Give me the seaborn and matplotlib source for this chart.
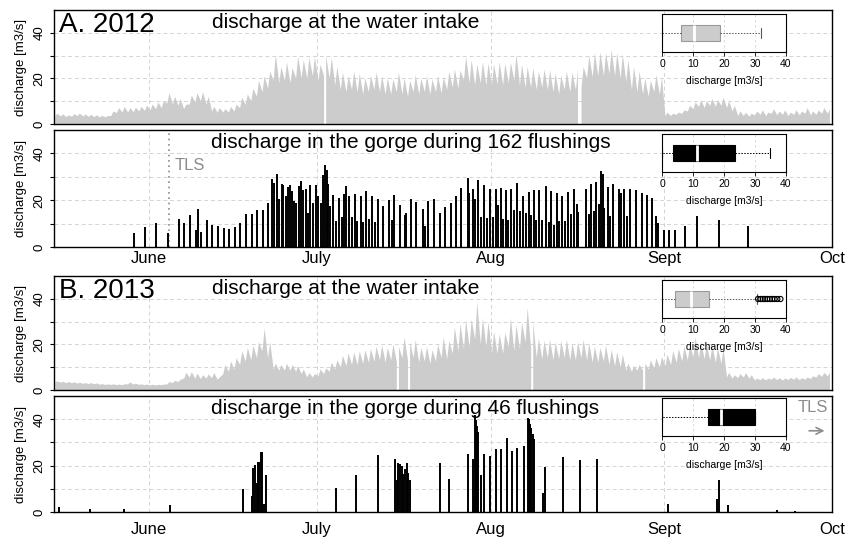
import pandas as pd
import seaborn as sns
import matplotlib.pyplot as plt
import matplotlib.dates as mdates

# discharge at the water intake [m3/s]: daily low and daily high, 15 May - 30 Sept
intake12_low = [3.5, 3.3, 3.0, 3.2, 3.5, 3.3, 3.1, 3.0, 2.9, 2.9,
                3.5, 4.8, 5.0, 5.0, 5.2, 5.5, 5.8,
                6.0, 6.5, 7.0, 9.0, 8.5, 8.0, 6.5, 8.5, 9.5, 10.0, 8.5,
                5.5, 5.0, 5.0, 5.0, 5.5, 7.0, 8.5, 10.0, 12.0, 14.0, 15.5,
                19.0, 18.0, 19.0, 18.0, 20.0, 20.0, 20.0, 21.0,
                19.0, 21.0, 20.0, 17.0, 15.0,
                14, 15, 14, 13, 14, 15, 14, 13, 13, 14, 13, 12, 14,
                13, 14, 13, 14, 13.5, 15, 16, 15.5, 19, 18,
                17, 18, 17,
                17, 17.5, 17, 18, 19,
                17, 16, 16, 15, 16, 15, 14, 13, 15, 14, 15, 16,
                20, 20.5, 21, 21, 22, 21, 20, 18.5, 15, 14, 13, 12, 14, 13,
                3.5, 3.5, 4.0, 4.5, 5.5, 6.5, 7.5, 7.0, 8.0, 7.5, 8.0, 7.0, 5.5,
                3.5, 3.5, 3.2, 3.8, 4.0, 3.5, 4.5, 3.8, 4.0, 3.5, 4.0, 3.8, 4.5, 3.8, 4.0, 4.5, 4.5]
intake12_high = [4.5, 4.2, 3.8, 4.3, 4.6, 4.2, 4.0, 3.8, 3.6, 3.5,
                 5.5, 7.0, 7.5, 7.0, 7.2, 7.5, 8.0,
                 8.5, 9.5, 10.0, 13.5, 12.0, 11.0, 8.5, 12.5, 13.5, 14.0, 12.0,
                 7.5, 7.0, 6.5, 7.5, 8.5, 11.5, 13.0, 15.5, 19.0, 21.0, 23.0,
                 30.5, 25.0, 27.0, 24.5, 29.5, 28.0, 29.0, 29.5,
                 26.0, 30.0, 29.0, 25.0, 22.5,
                 21, 23, 22, 20, 21, 22.5, 21, 20, 19.5, 22.5, 20, 19, 21.5,
                 20, 21, 19.5, 21, 20.5, 23, 24, 23.5, 29.5, 28.0,
                 26, 27, 26.5,
                 26, 27, 26.5, 27, 30.5,
                 26, 25, 24.5, 23, 24, 23.5, 22, 21, 23, 22.5, 24, 25,
                 30, 31, 31.5, 31, 32.5, 31, 30.5, 28, 25, 23, 20, 19, 21.5, 20.5,
                 5, 4.5, 5, 6, 8, 9.5, 10.5, 10, 11, 10.5, 11.5, 10, 8,
                 5.5, 5, 4.5, 5.5, 6, 5, 6.5, 5.5, 6, 5, 6, 5.5, 7, 5.5, 6, 7, 6.5]
intake13_low = [3.3, 3.2, 3.0, 3.0, 2.8, 2.7, 2.6, 2.5,
                2.3, 2.2, 2.2, 2.1, 2.1, 2.5, 2.4, 2.2, 2.1,
                2.0, 2.0, 2.1, 2.4, 3.0, 3.5, 5.0, 5.5, 5.0, 4.8, 5.0, 5.2, 4.5,
                7.0, 8.0, 9.0, 11.0, 12.5, 13.0, 14.0, 17.0, 14.0,
                9.0, 8.5, 8.5, 8.5, 8.0, 7.0, 5.5, 5.5,
                6.0, 7.0, 8.0, 9.0, 10.0, 10.5, 11.0, 11.0, 11.5,
                12, 12.5, 13, 12, 13, 12.5, 14, 13, 14, 12, 12.5, 11.5,
                12.5, 14, 13.5, 16, 17, 18, 19, 22, 20, 19,
                16, 16, 16, 19, 17, 18, 21, 18,
                14, 13.5, 14, 13, 13.5, 14, 13, 13, 14,
                13, 12, 12, 12.5, 11, 10.5, 10,
                8.5, 8.0, 8.5, 8.5, 9, 9.5, 10,
                10.5, 11, 12, 12.5, 13, 14.5, 14, 13.5, 13, 12, 11.5,
                5.5, 5.0, 5.2, 5.5, 5.0,
                4.2, 4.3, 4.2, 4.5, 4.3, 4.2, 4.4, 4.5, 4.3, 4.5, 4.8, 5.5, 5.8, 6.0]
intake13_high = [3.8, 3.6, 3.5, 3.4, 3.2, 3.0, 3.0, 2.9,
                 2.6, 2.5, 2.5, 2.4, 2.5, 3.3, 2.8, 2.5, 2.4,
                 2.3, 2.3, 2.4, 3.5, 4.0, 4.5, 7.5, 7.8, 7.2, 6.5, 6.8, 7.5, 5.5,
                 11.0, 12.5, 14.0, 17.0, 18.5, 19.5, 21.0, 27.0, 21.0,
                 11.5, 11.0, 11.5, 11.0, 10.5, 9.0, 7.5, 7.0,
                 9.0, 9.5, 12.0, 13.0, 15.0, 16.0, 16.5, 17.0, 17.5,
                 18.0, 19.0, 19.5, 18.5, 20.0, 19.0, 23.0, 21.0, 22.0, 18.5, 19.0, 17.5,
                 20.0, 23.0, 21.5, 27.5, 29.0, 30.5, 31.0, 38.5, 31.5, 30.0,
                 25.5, 24.5, 25.0, 31.5, 28.5, 29.5, 36.0, 30.0,
                 22.5, 21.5, 22.0, 21.0, 21.5, 22.0, 20.5, 21.0, 22.0,
                 20.5, 19.0, 18.5, 19.5, 17.5, 16.5, 15.5,
                 11.5, 10.5, 11.0, 11.5, 13.0, 14.0, 14.5,
                 15.5, 17.0, 18.0, 19.0, 20.0, 23.0, 21.0, 20.0, 19.5, 18.5, 18.0,
                 7.5, 6.5, 7.0, 7.5, 6.5,
                 5.0, 5.2, 5.0, 5.5, 5.2, 5.0, 5.3, 5.5, 5.2, 5.5, 6.0, 7.0, 7.5, 7.5]
# short breaks in the intake record
gaps12 = ["2012-07-02 10:00", "2012-08-16 20:00", "2012-08-17 03:00"]
gaps13 = ["2013-07-15 12:00", "2013-07-17 10:00", "2013-08-08 12:00", "2013-08-28 10:00"]

# flushings: days after 15 May and discharge in the gorge [m3/s]
flush12_day = [14.3, 16.25, 18.2, 20.3, 22.3, 23.2, 24.3, 25.3, 25.8, 26.25,
               27.3, 28.3, 29.3, 30.3, 31.3, 32.3, 33.3, 34.3, 35.3, 36.3,
               37.3, 38.3, 38.87, 39.3, 39.76, 40.18, 40.65, 41.0, 41.4, 41.8,
               42.1, 42.5, 42.9, 43.3, 43.8, 44.2, 44.5, 45.0, 45.4, 45.8,
               46.3, 46.8, 47.2, 47.7, 48.1, 48.4, 48.7, 49.0, 49.4, 49.9,
               50.4, 50.9, 51.4, 51.8, 52.1, 52.7, 53.3, 53.8, 54.2, 54.8,
               55.2, 55.7, 56.2, 56.8, 57.3, 57.8, 58.8, 59.8, 60.3, 60.8,
               61.8, 62.7, 62.9, 63.8, 64.6, 65.9, 66.3, 66.9, 67.9, 68.9,
               69.9, 70.9, 71.8, 72.8, 73.9, 74.2, 74.8, 75.2, 75.8, 76.3,
               76.8, 77.3, 77.9, 78.4, 78.9, 79.3, 79.8, 80.3, 80.8, 81.2,
               81.7, 82.2, 82.8, 83.2, 83.8, 84.3, 84.8, 85.3, 85.8, 86.2,
               86.7, 87.2, 87.9, 88.4, 88.8, 89.3, 89.8, 90.3, 90.8, 91.3,
               91.8, 92.3, 92.9, 93.4, 93.7, 95.0, 95.5, 96.0, 96.4, 96.9,
               97.4, 97.7, 98.0, 98.3, 98.9, 99.3, 99.9, 100.9, 101.3, 101.9,
               102.3, 102.9, 103.9, 105.0, 106.0, 106.9, 107.5, 108.0, 108.9, 109.9,
               110.9, 112.8, 114.8, 118.9, 124.0]
flush12_q = [6.1, 8.6, 10.3, 6.1, 11.9, 10.4, 13.6, 7.4, 16.3, 6.4,
             11.4, 9.6, 8.9, 8.3, 7.6, 8.6, 10.4, 14.0, 14.3, 15.7,
             15.7, 19.0, 28.9, 27.4, 31.4, 20.5, 27.0, 26.4, 21.7, 25.5,
             26.4, 24.0, 19.7, 18.6, 25.9, 28.3, 24.2, 24.6, 14.7, 26.4,
             18.6, 26.7, 22.0, 18.6, 30.7, 35.0, 33.0, 26.9, 17.4, 22.3,
             11.0, 21.0, 13.0, 22.5, 25.9, 21.7, 12.9, 22.6, 10.9, 22.0,
             10.5, 24.0, 12.0, 22.0, 10.5, 20.7, 17.6, 20.0, 11.5, 22.2,
             18.0, 13.5, 14.5, 20.3, 19.4, 16.4, 8.9, 19.6, 20.3, 14.7,
             16.9, 18.9, 21.7, 25.4, 29.6, 23.1, 24.7, 20.7, 28.6, 12.9,
             26.4, 12.6, 25.0, 12.9, 24.6, 17.9, 25.4, 12.1, 24.3, 11.7,
             25.0, 15.7, 27.4, 15.3, 21.7, 14.6, 23.3, 13.6, 24.3, 11.4,
             24.3, 11.7, 26.0, 10.7, 24.0, 9.3, 22.9, 11.1, 22.0, 11.0,
             23.4, 13.9, 24.6, 18.3, 15.0, 24.6, 13.9, 27.1, 15.3, 27.6,
             18.3, 32.6, 31.4, 16.7, 25.7, 13.1, 27.1, 24.6, 23.1, 25.0,
             13.1, 25.0, 24.3, 23.1, 22.1, 21.1, 13.1, 10.3, 7.1, 7.4,
             7.4, 8.9, 13.3, 11.4, 8.9]
flush13_day = [0.83, 6.5, 12.5, 20.8, 33.8, 35.4, 35.6, 35.9, 36.2, 36.5,
               36.7, 36.9, 37.1, 37.5, 37.8, 50.3, 53.9, 57.8, 60.9, 61.2,
               61.5, 61.8, 62.1, 62.4, 62.7, 63.0, 63.3, 63.6, 68.9, 70.5,
               73.9, 74.9, 75.05, 75.2, 75.4, 75.6, 75.8, 76.2, 76.9, 77.9,
               78.9, 79.9, 80.9, 81.9, 82.8, 83.9, 84.6, 84.8, 85.0, 85.2,
               85.5, 85.8, 87.4, 87.8, 90.9, 93.9, 97.0, 109.7, 118.4, 118.9,
               120.5, 129.2, 132.4]
flush13_q = [2.0, 1.4, 1.3, 3.0, 10.1, 7.1, 18.8, 20.1, 12.6, 21.6,
             21.5, 26.0, 26.0, 3.5, 15.8, 10.4, 15.9, 24.5, 22.8, 13.8,
             21.0, 20.6, 19.9, 16.2, 18.4, 21.3, 17.0, 14.0, 21.3, 14.3,
             25.2, 23.0, 7.1, 41.6, 39.5, 37.2, 34.3, 15.8, 25.2, 24.2,
             27.1, 27.1, 31.7, 26.4, 27.4, 28.3, 40.4, 40.1, 38.0, 36.1,
             33.6, 31.4, 8.0, 19.4, 23.8, 22.3, 23.0, 3.5, 5.4, 13.6,
             3.2, 0.7, 0.4]

# inset boxplots: lower whisker, Q1, median, Q3, upper whisker
box_intake12 = [0, 6.0, 10.3, 18.7, 32.0]
box_gorge12 = [0, 3.4, 11.3, 23.7, 34.8]
box_intake13 = [0, 4.3, 9.4, 15.1, 30.6]
box_gorge13 = [0, 14.7, 19.1, 29.9, 29.9]
outliers_intake13 = [31.0, 31.8, 32.5, 33.2, 34.0, 34.8, 35.5, 36.3, 37.2, 38.2]

tls12_day = 20.5
months = ["June", "July", "Aug", "Sept", "Oct"]

sns.set_theme(style="white")
plt.rcParams['font.family'] = ['Liberation Sans', 'DejaVu Sans']
plt.rcParams.update({'text.color': 'black', 'axes.labelcolor': 'black',
                     'xtick.color': 'black', 'ytick.color': 'black',
                     'axes.edgecolor': 'black'})

W, H = 852, 539
GRID = '#d4d4d4'
GRAY = '#cccccc'
TLS = '#8c8c8c'


def px(l, t, r, b):
    return [l / W, 1 - b / H, (r - l) / W, (b - t) / H]


def intake_frame(year, low, high, gaps):
    days = pd.date_range(f"{year}-05-15", periods=len(low), freq="D")
    df = pd.concat([
        pd.DataFrame({"time": days + pd.Timedelta(hours=6), "q": low}),
        pd.DataFrame({"time": days + pd.Timedelta(hours=15), "q": high}),
        pd.DataFrame({"time": pd.to_datetime(gaps), "q": float("nan")}),
    ]).sort_values("time")
    return df


def flush_times(year, days):
    return pd.Timestamp(f"{year}-05-15") + pd.to_timedelta(days, unit="D")


def main_axes(rect, year, show_x, xpad=3):
    ax = fig.add_axes(px(*rect))
    t0 = mdates.date2num(pd.Timestamp(f"{year}-05-15"))
    ticks = [mdates.date2num(pd.Timestamp(f"{year}-{m:02d}-01")) for m in range(6, 11)]
    for v in (10, 20, 30, 40):
        ax.axhline(v, color=GRID, lw=0.7, ls=(0, (4, 3)), zorder=0)
    for t in ticks[:-1]:
        ax.axvline(t, color=GRID, lw=0.7, ls=(0, (4, 3)), zorder=0)
    ax.set_xlim(t0, ticks[-1])
    ax.set_ylim(0, 50)
    ax.set_yticks([0, 10, 20, 30, 40])
    ax.set_yticklabels(['0', '', '20', '', '40'], rotation=90, va='center')
    ax.tick_params(axis='y', left=True, length=3, width=0.8, pad=3, labelsize=9.5)
    ax.set_xticks(ticks)
    ax.set_xticklabels(months)
    ax.tick_params(axis='x', bottom=False, length=0, pad=xpad, labelsize=12,
                   labelbottom=show_x)
    ax.set_ylabel("discharge [m3/s]", fontsize=9.5, va='center')
    ax.yaxis.set_label_coords(-0.0418, 0.5)
    for s in ax.spines.values():
        s.set_color('black')
        s.set_linewidth(1.0)
    return ax


def inset(rect, stats, face, edge, whisk, fliers=None):
    axi = fig.add_axes(px(*rect))
    axi.set_facecolor('white')
    for v in (10, 20, 30):
        axi.axvline(v, color=GRID, lw=0.6, ls=(0, (3, 3)), zorder=0)
    lo, q1, med, q3, hi = stats
    axi.bxp([dict(whislo=lo, q1=q1, med=med, q3=q3, whishi=hi, fliers=[])],
            positions=[1], widths=0.4, orientation='horizontal', patch_artist=True,
            showfliers=False, manage_ticks=False, capwidths=0.27,
            boxprops=dict(facecolor=face, edgecolor=edge, linewidth=0.8),
            medianprops=dict(color='white', linewidth=2),
            whiskerprops=dict(color=whisk, linewidth=0.7, linestyle=(0, (1.5, 1.5))),
            capprops=dict(color=whisk, linewidth=0.8))
    if fliers:
        sns.scatterplot(x=fliers, y=[1] * len(fliers), ax=axi, marker='o', s=14,
                        facecolors='none', edgecolor='black', linewidth=0.8, zorder=4)
    axi.set_xlim(0, 40)
    axi.set_ylim(0.5, 1.5)
    axi.set_yticks([])
    axi.set_xticks([0, 10, 20, 30, 40])
    axi.tick_params(axis='x', bottom=True, length=3, width=0.6, pad=2, labelsize=7.5)
    axi.set_xlabel("discharge [m3/s]", fontsize=7.5, labelpad=5)
    for s in axi.spines.values():
        s.set_color('black')
        s.set_linewidth(0.8)
    return axi


fig = plt.figure(figsize=(8.52, 5.39), dpi=100)

for year, low, high, gaps, flush_d, flush_q, rects, label in [
        (2012, intake12_low, intake12_high, gaps12, flush12_day, flush12_q,
         [(54, 10, 832, 124), (54, 130, 832, 247)], "A. 2012"),
        (2013, intake13_low, intake13_high, gaps13, flush13_day, flush13_q,
         [(54, 276, 832, 390), (54, 396, 832, 512)], "B. 2013")]:
    ax1 = main_axes(rects[0], year, False)
    df = intake_frame(year, low, high, gaps)
    ax1.fill_between(mdates.date2num(df["time"].to_numpy()), 0, df["q"].to_numpy(),
                     color=GRAY, lw=0, zorder=1)
    ax1.text(0.0064, 0.807, label, transform=ax1.transAxes, fontsize=20, va='baseline')
    ax1.text(0.203, 0.838, "discharge at the water intake", transform=ax1.transAxes,
             fontsize=15, va='baseline')

    ax2 = main_axes(rects[1], year, True, xpad=3 if year == 2012 else 7)
    ft = mdates.date2num(flush_times(year, flush_d))
    ax2.vlines(ft, 0, flush_q, color='black', lw=1.4, zorder=2)
    ax2.text(0.202, 0.842, f"discharge in the gorge during {162 if year == 2012 else 46} flushings",
             transform=ax2.transAxes, fontsize=15, va='baseline')

    if year == 2012:
        tls = mdates.date2num(flush_times(year, [tls12_day]))[0]
        ax2.axvline(tls, color=TLS, lw=1.2, ls=(0, (1, 2.2)), zorder=1)
        ax2.text(tls + 1.0, 32.9, "TLS", color=TLS, fontsize=12, va='baseline')
        inset((662, 14, 786, 52), box_intake12, GRAY, '#9a9a9a', '#555555')
        inset((662, 134, 786, 172), box_gorge12, 'black', 'black', 'black')
    else:
        ax2.text(0.995, 0.865, "TLS", color=TLS, fontsize=12, va='baseline', ha='right',
                 transform=ax2.transAxes)
        ax2.annotate('', xy=(0.994, 0.70), xytext=(0.967, 0.70), xycoords='axes fraction',
                     arrowprops=dict(arrowstyle='->', color=TLS, lw=1.2))
        inset((662, 280, 786, 318), box_intake13, GRAY, '#9a9a9a', '#555555',
              fliers=outliers_intake13)
        inset((662, 398, 786, 436), box_gorge13, 'black', 'black', 'black')

fig.savefig("out.png", dpi=100)
